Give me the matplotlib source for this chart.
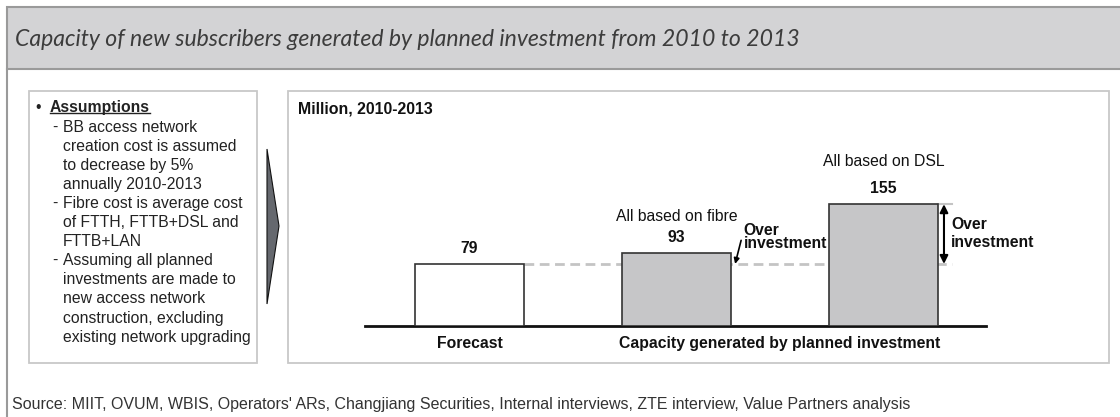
import numpy as np
import matplotlib.pyplot as plt
from matplotlib.patches import Rectangle, Polygon
from matplotlib.lines import Line2D

#---------------------------------------------------------------
# data
#---------------------------------------------------------------
bar_names = ['Forecast', 'All based on fibre', 'All based on DSL']
bar_values = [79, 93, 155]
bar_colors = ['white', '#c6c6c8', '#c6c6c8']
group_labels = ['Forecast', 'Capacity generated by planned investment']

title = 'Capacity of new subscribers generated by planned investment from 2010 to 2013'
unit_label = 'Million, 2010-2013'
assumption_lines = [
    '- ', 'BB access network',
    '', 'creation cost is assumed',
    '', 'to decrease by 5%',
    '', 'annually 2010-2013',
    '- ', 'Fibre cost is average cost',
    '', 'of FTTH, FTTB+DSL and',
    '', 'FTTB+LAN',
    '- ', 'Assuming all planned',
    '', 'investments are made to',
    '', 'new access network',
    '', 'construction, excluding',
    '', 'existing network upgrading',
]
source = ("Source: MIIT, OVUM, WBIS, Operators' ARs, Changjiang Securities, "
          "Internal interviews, ZTE interview, Value Partners analysis")

plt.rcParams['font.family'] = ['Liberation Sans', 'DejaVu Sans']
W, H = 1120, 417
fig = plt.figure(figsize=(W / 100, H / 100), dpi=100)

#---------> background layer in pixel coordinates
bg = fig.add_axes([0, 0, 1, 1])
bg.set_xlim(0, W)
bg.set_ylim(H, 0)
bg.axis('off')

bg.add_patch(Rectangle((7, 7), W, 62, facecolor='#d3d3d5', edgecolor='#9a9a9a', lw=1.5))
bg.plot([7, 7], [69, H + 5], color='#9a9a9a', lw=1.5)
bg.text(15, 39, title, fontsize=16.6, style='italic', family=['Lato', 'DejaVu Sans'],
        color='#3c3c3c', va='center', ha='left')

bg.add_patch(Rectangle((29, 91), 228, 272, facecolor='white', edgecolor='#c8c8c8', lw=1.3))
bg.add_patch(Rectangle((288, 91), 821, 272, facecolor='white', edgecolor='#c8c8c8', lw=1.3))
bg.add_patch(Polygon([(267, 149), (279, 226), (267, 304)], closed=True,
                     facecolor='#65686e', edgecolor='#111111', lw=0.8))

#---------> assumptions panel
fs = 11.3
bg.text(35, 107, '\u2022', fontsize=fs, va='center', ha='left', color='#222222')
t_ass = bg.text(50, 107, 'Assumptions', fontsize=fs, fontweight='bold', va='center',
                ha='left', color='#222222')
for k in range(0, len(assumption_lines), 2):
    y = 127 + (k // 2) * 19.1
    if assumption_lines[k]:
        bg.text(52, y, '-', fontsize=fs, va='center', ha='left', color='#222222')
    bg.text(63, y, assumption_lines[k + 1], fontsize=fs, va='center', ha='left', color='#222222')

bg.text(298, 109, unit_label, fontsize=11.4, fontweight='bold', va='center', ha='left', color='#111111')
bg.text(12, 404, source, fontsize=11.5, va='center', ha='left', color='#333333')

#---------> chart
x = np.arange(len(bar_values))
ax = fig.add_axes([365 / W, (H - 326) / H, 621 / W, 220 / H])
ax.patch.set_alpha(0)
ax.set_xlim(-0.505, 2.495)
ax.set_ylim(0, 280)
for s in ['top', 'left', 'right']:
    ax.spines[s].set_visible(False)
ax.spines['bottom'].set_linewidth(2)
ax.spines['bottom'].set_color('#111111')
ax.set_yticks([])
ax.set_xticks([0, 1.5])
ax.set_xticklabels(group_labels, fontsize=fs, fontweight='bold', color='#111111')
ax.tick_params(axis='x', length=0, pad=7)

bw = 0.527
ax.bar(x, bar_values, width=bw, color=bar_colors, edgecolor='#333333', lw=1.2, zorder=3)

# dashed reference at forecast level
ref = bar_values[0]
ax.plot([x[0] + bw / 2, x[2] + bw / 2 + 0.068], [ref, ref], color='#c4c4c4', lw=2,
        dashes=(3.5, 2), zorder=2)
ax.plot([x[2] + bw / 2, x[2] + bw / 2 + 0.068], [bar_values[2]] * 2, color='#c4c4c4',
        lw=1.5, zorder=2)

# value labels
for xi, v in zip(x, bar_values):
    ax.annotate(str(v), (xi, v), xytext=(0, 11), textcoords='offset points', ha='center',
                va='center', fontsize=fs, fontweight='bold', color='#111111')
ax.annotate(bar_names[1], (x[1], bar_values[1]), xytext=(0, 26), textcoords='offset points',
            ha='center', va='center', fontsize=fs, color='#111111')
ax.annotate(bar_names[2], (x[2], bar_values[2]), xytext=(0, 31), textcoords='offset points',
            ha='center', va='center', fontsize=fs, color='#111111')

# over-investment arrows
xa = x[2] + 0.292
ax.annotate('', xy=(xa, bar_values[2]), xytext=(xa, ref),
            arrowprops=dict(arrowstyle='<|-|>', color='black', lw=1.5, mutation_scale=12,
                            shrinkA=0, shrinkB=0))
ax.text(x[2] + 0.326, (bar_values[2] + ref) / 2 + 1, 'Over\ninvestment', fontsize=fs,
        fontweight='bold', va='center', ha='left', linespacing=1.25, color='#111111')

ax.annotate('', xy=(x[1] + 0.283, ref), xytext=(x[1] + 0.312, 109),
            arrowprops=dict(arrowstyle='-|>', color='black', lw=1.2, mutation_scale=8,
                            shrinkA=0, shrinkB=0))
ax.text(x[1] + 0.321, 122, 'Over', fontsize=fs, fontweight='bold', va='center',
        ha='left', color='#111111')
ax.text(x[1] + 0.323, 105, 'investment', fontsize=fs, fontweight='bold', va='center',
        ha='left', color='#111111')

#---------> underline for the heading
fig.canvas.draw()
bb = t_ass.get_window_extent()
bg.add_line(Line2D([bb.x0, bb.x1], [113, 113], color='#222222', lw=1))

fig.savefig('out.png', dpi=100)
